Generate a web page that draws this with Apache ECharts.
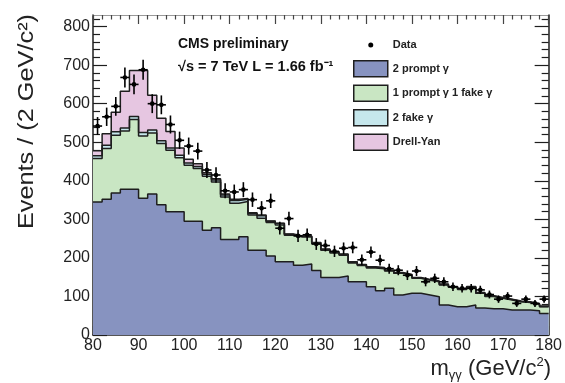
<!DOCTYPE html>
<html>
<head>
<meta charset="utf-8">
<script src="https://cdn.jsdelivr.net/npm/echarts@6/dist/echarts.min.js"></script>
<style>
  html, body { margin: 0; padding: 0; background: #fff; }
  #chart { width: 565px; height: 383px; }
</style>
</head>
<body>
<div id="chart"></div>
<script>
  // lower edges of the 2 GeV bins
  var binLow = [80, 82, 84, 86, 88, 90, 92, 94, 96, 98,
    100, 102, 104, 106, 108, 110, 112, 114, 116, 118,
    120, 122, 124, 126, 128, 130, 132, 134, 136, 138,
    140, 142, 144, 146, 148, 150, 152, 154, 156, 158,
    160, 162, 164, 166, 168, 170, 172, 174, 176, 178]
  var binWidth = 2

  // stacked components (events per bin)
  var prompt2 = [345, 352, 368, 378, 378, 355, 366, 338, 320, 320,
    295, 295, 272, 278, 248, 248, 255, 220, 220, 205,
    190, 190, 181, 184, 167, 149, 149, 153, 138, 138,
    125, 115, 121, 104, 108, 108, 104, 99, 78, 73,
    73, 78, 70, 68, 68, 65, 65, 65, 63, 56]
  var prompt1fake1 = [113, 132, 150, 151, 181, 161, 158, 159, 159, 140,
    145, 137, 140, 119, 110, 94, 91, 91, 83, 87,
    95, 69, 73, 70, 70, 71, 64, 54, 49, 42,
    49, 57, 45, 56, 47, 39, 38, 39, 52, 51,
    45, 46, 38, 32, 27, 26, 21, 19, 16, 17]
  var fake2 = [7, 8, 9, 8, 8, 9, 8, 7, 6, 6,
    6, 5, 5, 5, 5, 7, 6, 4, 6, 3,
    4, 2, 2, 2, 2, 2, 2, 2, 2, 2,
    2, 2, 1, 1, 1, 1, 1, 1, 1, 1,
    1, 1, 1, 1, 1, 1, 1, 1, 1, 1]
  var drellYan = [13, 30, 51, 95, 119, 161, 90, 58, 43, 19,
    10, 7, 4, 3, 3, 3, 2, 2, 2, 1,
    1, 1, 1, 1, 1, 1, 1, 1, 1, 1,
    1, 1, 1, 1, 1, 1, 1, 1, 1, 1,
    1, 1, 1, 1, 1, 1, 1, 1, 1, 1]
  var dataCounts = [542, 566, 593, 668, 650, 688, 600, 597, 546, 505,
    490, 477, 428, 415, 374, 371, 377, 351, 329, 348,
    277, 302, 257, 260, 236, 232, 217, 225, 227, 195,
    215, 194, 172, 168, 155, 166, 138, 147, 138, 125,
    121, 121, 117, 105, 93, 101, 82, 93, 82, 93]

  var yTicks = [0, 100, 200, 300, 400, 500, 600, 700, 800]

  var FONT = '"Liberation Sans", Arial, Helvetica, sans-serif'
  var C_BLUE = '#8793c0'
  var C_GREEN = '#c9e6c3'
  var C_CYAN = '#c6e7ec'
  var C_PINK = '#e6c6e1'
  var C_LINE = '#1e1e1e'

  function addUp(a, b) {
    return a.map(function (v, i) { return v + b[i] })
  }
  // step line points: left edges + closing point at the right end
  function stepData(vals) {
    var d = binLow.map(function (x, i) { return [x, vals[i]] })
    d.push([binLow[binLow.length - 1] + binWidth, vals[vals.length - 1]])
    return d
  }

  var cum1 = prompt2
  var cum2 = addUp(cum1, prompt1fake1)
  var cum3 = addUp(cum2, fake2)
  var cum4 = addUp(cum3, drellYan)

  function histSeries(name, vals, color) {
    return {
      name: name,
      type: 'line',
      step: 'end',
      data: stepData(vals),
      symbol: 'none',
      showSymbol: false,
      silent: true,
      itemStyle: { color: color },
      lineStyle: { color: C_LINE, width: 1.5 },
      areaStyle: { color: color, opacity: 1 }
    }
  }

  var chart = echarts.init(document.getElementById('chart'))

  var dotIcon = 'path://M0,0L0,0M34,16L34,16M14.5,8A2.5,2.5,0,1,1,19.5,8A2.5,2.5,0,1,1,14.5,8Z'

  chart.setOption({
    animation: false,
    backgroundColor: '#fff',
    grid: { left: 93, right: 16, top: 15, bottom: 48 },
    legend: {
      left: 353,
      top: 37,
      padding: 0,
      orient: 'vertical',
      itemWidth: 34,
      itemHeight: 16,
      itemGap: 7,
      selectedMode: false,
      textStyle: { fontSize: 11, fontWeight: 'bold', color: '#222', fontFamily: FONT },
      data: [
        { name: 'Data', icon: dotIcon, itemStyle: { color: '#000', borderWidth: 0 } },
        { name: '2 prompt γ', icon: 'rect', itemStyle: { color: C_BLUE, borderColor: C_LINE, borderWidth: 1.5 } },
        { name: '1 prompt γ 1 fake γ', icon: 'rect', itemStyle: { color: C_GREEN, borderColor: C_LINE, borderWidth: 1.5 } },
        { name: '2 fake γ', icon: 'rect', itemStyle: { color: C_CYAN, borderColor: C_LINE, borderWidth: 1.5 } },
        { name: 'Drell-Yan', icon: 'rect', itemStyle: { color: C_PINK, borderColor: C_LINE, borderWidth: 1.5 } }
      ]
    },
    xAxis: [
      {
        type: 'value', min: 80, max: 180, interval: 10, position: 'bottom',
        axisLine: { show: true, onZero: false, lineStyle: { color: C_LINE, width: 1.5 } },
        axisTick: { show: true, inside: true, length: 9, lineStyle: { color: C_LINE, width: 1.2 } },
        minorTick: { show: true, splitNumber: 5, length: 4.5, lineStyle: { color: C_LINE, width: 1.2 } },
        splitLine: { show: false },
        axisLabel: { fontSize: 16, color: '#222', margin: 3, fontFamily: FONT }
      },
      {
        type: 'value', min: 80, max: 180, interval: 10, position: 'top',
        axisLine: { show: true, onZero: false, lineStyle: { color: '#9a9a9a', width: 1 } },
        axisTick: { show: true, inside: true, length: 9, lineStyle: { color: '#444', width: 1.2 } },
        minorTick: { show: true, splitNumber: 5, length: 4.5, lineStyle: { color: '#444', width: 1.2 } },
        splitLine: { show: false },
        axisLabel: { show: false }
      }
    ],
    yAxis: [
      {
        type: 'value', min: 0, max: 830, interval: 100, position: 'left',
        axisLine: { show: true, onZero: false, lineStyle: { color: C_LINE, width: 1.5 } },
        axisTick: { show: true, inside: true, length: 14, customValues: yTicks, lineStyle: { color: C_LINE, width: 1.2 } },
        minorTick: { show: true, splitNumber: 5, length: 7, lineStyle: { color: C_LINE, width: 1.2 } },
        splitLine: { show: false },
        axisLabel: { fontSize: 16, color: '#222', margin: 3, fontFamily: FONT, customValues: yTicks }
      },
      {
        type: 'value', min: 0, max: 830, interval: 100, position: 'right',
        axisLine: { show: true, onZero: false, lineStyle: { color: C_LINE, width: 1.5 } },
        axisTick: { show: true, inside: true, length: 14, customValues: yTicks, lineStyle: { color: C_LINE, width: 1.2 } },
        minorTick: { show: true, splitNumber: 5, length: 7, lineStyle: { color: C_LINE, width: 1.2 } },
        splitLine: { show: false },
        axisLabel: { show: false }
      }
    ],
    graphic: [
      {
        type: 'text', left: 178, top: 37,
        style: { text: 'CMS preliminary', font: 'bold 14px ' + FONT, fill: '#111' }
      },
      {
        type: 'text', left: 178, top: 59,
        style: { text: '√s = 7 TeV L = 1.66 fb⁻¹', font: 'bold 14.5px ' + FONT, fill: '#111' }
      },
      {
        type: 'text', x: 27, y: 14, rotation: Math.PI / 2, scaleX: 1.15,
        style: { text: 'Events / (2 GeV/c²)', font: '22px ' + FONT, fill: '#222', align: 'right', verticalAlign: 'middle' }
      },
      {
        type: 'text', x: 551, y: 369,
        style: {
          text: '{a|m}{b|γγ}{a| (GeV/c}{c|2}{a|)}',
          align: 'right', verticalAlign: 'middle', fill: '#222',
          rich: {
            a: { fontSize: 22, fontFamily: FONT, lineHeight: 26, fill: '#222' },
            b: { fontSize: 13, fontFamily: FONT, lineHeight: 12, verticalAlign: 'bottom', fill: '#222' },
            c: { fontSize: 13, fontFamily: FONT, lineHeight: 12, verticalAlign: 'top', fill: '#222' }
          }
        }
      }
    ],
    series: [
      histSeries('Drell-Yan', cum4, C_PINK),
      histSeries('2 fake γ', cum3, C_CYAN),
      histSeries('1 prompt γ 1 fake γ', cum2, C_GREEN),
      histSeries('2 prompt γ', cum1, C_BLUE),
      {
        name: 'Data',
        type: 'custom',
        silent: true,
        z: 10,
        itemStyle: { color: '#000' },
        encode: { x: 0, y: 1 },
        data: binLow.map(function (x, i) { return [x + binWidth / 2, dataCounts[i]] }),
        renderItem: function (params, api) {
          var x = api.value(0)
          var y = api.value(1)
          var err = Math.sqrt(y)
          var c = api.coord([x, y])
          var l = api.coord([x - binWidth / 2, y])
          var r = api.coord([x + binWidth / 2, y])
          var t = api.coord([x, y + err])
          var b = api.coord([x, y - err])
          var st = { stroke: '#000', lineWidth: 1.6 }
          return {
            type: 'group',
            children: [
              { type: 'line', shape: { x1: l[0], y1: c[1], x2: r[0], y2: c[1] }, style: st },
              { type: 'line', shape: { x1: c[0], y1: t[1], x2: c[0], y2: b[1] }, style: st },
              { type: 'circle', shape: { cx: c[0], cy: c[1], r: 2.3 }, style: { fill: '#000' } }
            ]
          }
        }
      }
    ]
  })
</script>
</body>
</html>
